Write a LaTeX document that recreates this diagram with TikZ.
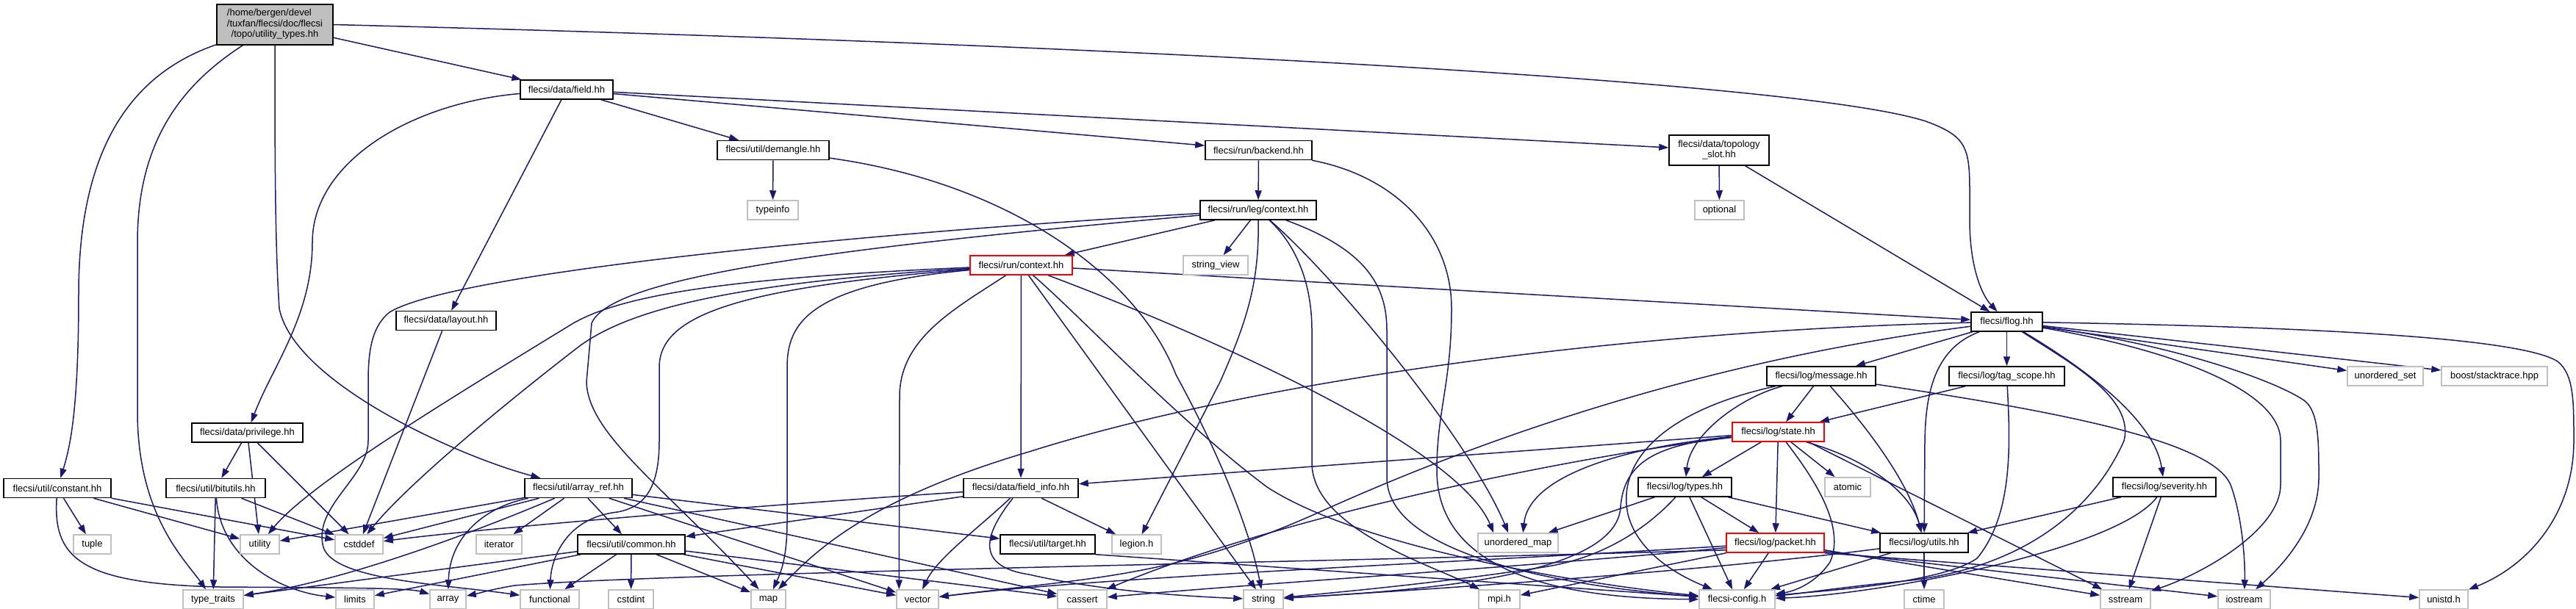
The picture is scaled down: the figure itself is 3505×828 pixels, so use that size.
\documentclass[tikz,border=0pt]{standalone}
\usepackage{fontspec}
\setmainfont{Liberation Sans}
\usetikzlibrary{arrows.meta,backgrounds}
\definecolor{edgec}{HTML}{191970}
\definecolor{lightg}{HTML}{BFBFBF}
\tikzset{
  nb/.style={draw=black, line width=1.5pt, fill=white, minimum height=26pt, inner sep=0pt, font=\fontsize{13}{14.5}\selectfont},
  ng/.style={nb, draw=lightg},
  nr/.style={nb, draw=red},
  edg/.style={draw=edgec, line width=1.5pt, -{Triangle[length=13pt,width=9pt]}},
}
\begin{document}
\begin{tikzpicture}[x=1pt,y=-1pt]
\useasboundingbox (0,0) rectangle (3505,828);
% ---------- nodes ----------
\node[nb, fill=lightg, minimum width=158pt, minimum height=55pt] (main) at (374,33.5)
  {\begin{tabular}{@{}l@{}}/home/bergen/devel\\/tuxfan/flecsi/doc/flecsi\\\multicolumn{1}{@{}c@{}}{/topo/utility\_types.hh}\end{tabular}};
\node[nb,minimum width=126pt] (field) at (771,122) {flecsi/data/field.hh};
\node[nb,minimum width=152pt] (demangle) at (1052,204.5) {flecsi/util/demangle.hh};
\node[ng,minimum width=69pt] (typeinfo) at (1051.5,286) {typeinfo};
\node[nb,minimum width=145pt] (backend) at (1712.5,204.5) {flecsi/run/backend.hh};
\node[nb,minimum width=136pt,minimum height=41pt] (topo) at (2339,204.5)
  {\begin{tabular}{@{}l@{}}flecsi/data/topology\\\multicolumn{1}{@{}c@{}}{\_slot.hh}\end{tabular}};
\node[ng,minimum width=67pt] (optional) at (2339.5,286) {optional};
\node[nb,minimum width=158pt] (leg) at (1712,286) {flecsi/run/leg/context.hh};
\node[ng,minimum width=88pt] (strview) at (1654,361) {string\_view};
\node[nr,minimum width=139pt] (runctx) at (1389.5,361) {flecsi/run/context.hh};
\node[nb,minimum width=97pt] (flog) at (2730.5,438) {flecsi/flog.hh};
\node[nb,minimum width=136pt] (layout) at (607,436.5) {flecsi/data/layout.hh};
\node[nb,minimum width=148pt] (message) at (2478,512) {flecsi/log/message.hh};
\node[nb,minimum width=157pt] (tagscope) at (2730.5,512) {flecsi/log/tag\_scope.hh};
\node[ng,minimum width=103pt] (uset) at (3245.5,512) {unordered\_set};
\node[ng,minimum width=144pt] (boost) at (3394,512) {boost/stacktrace.hpp};
\node[nr,minimum width=125pt] (state) at (2419.5,588) {flecsi/log/state.hh};
\node[nb,minimum width=151pt] (privilege) at (336.5,589) {flecsi/data/privilege.hh};
\node[nb,minimum width=146pt] (constant) at (78,664.5) {flecsi/util/constant.hh};
\node[nb,minimum width=135pt] (bitutils) at (293.5,664.5) {flecsi/util/bitutils.hh};
\node[nb,minimum width=146pt] (arrayref) at (787,664.5) {flecsi/util/array\_ref.hh};
\node[nb,minimum width=156pt] (fieldinfo) at (1389,664.5) {flecsi/data/field\_info.hh};
\node[nb,minimum width=127pt] (types) at (2292.5,663) {flecsi/log/types.hh};
\node[ng,minimum width=62pt] (atomic) at (2514,663) {atomic};
\node[nb,minimum width=140pt] (severity) at (2945,663) {flecsi/log/severity.hh};
\node[ng,minimum width=51pt] (tuple) at (125.5,741) {tuple};
\node[ng,minimum width=53pt] (utility) at (353.5,741) {utility};
\node[ng,minimum width=65pt] (cstddef) at (488.5,741) {cstddef};
\node[ng,minimum width=62pt] (iterator) at (679,741) {iterator};
\node[nb,minimum width=146pt] (common) at (859,741) {flecsi/util/common.hh};
\node[nb,minimum width=129pt] (target) at (1425.5,741) {flecsi/util/target.hh};
\node[ng,minimum width=67pt] (legion) at (1546.5,741) {legion.h};
\node[ng,minimum width=109pt] (umap) at (2065.5,739) {unordered\_map};
\node[nr,minimum width=133pt] (packet) at (2415.5,739) {flecsi/log/packet.hh};
\node[nb,minimum width=120pt] (utils) at (2618,739) {flecsi/log/utils.hh};
\node[ng,minimum width=82pt] (typetraits) at (290,816) {type\_traits};
\node[ng,minimum width=52pt] (limits) at (483,816) {limits};
\node[ng,minimum width=49pt] (array) at (609.5,816) {array};
\node[ng,minimum width=80pt] (functional) at (748,816) {functional};
\node[ng,minimum width=61pt] (cstdint) at (858.5,816) {cstdint};
\node[ng,minimum width=47pt] (map) at (1045.5,816) {map};
\node[ng,minimum width=57pt] (vector) at (1248.5,816) {vector};
\node[ng,minimum width=67pt] (cassert) at (1472.5,816) {cassert};
\node[ng,minimum width=54pt] (string) at (1719,816) {string};
\node[ng,minimum width=56pt] (mpi) at (2040,816) {mpi.h};
\node[ng,minimum width=103pt] (config) at (2363.5,816) {flecsi-config.h};
\node[ng,minimum width=54pt] (ctime) at (2618,816) {ctime};
\node[ng,minimum width=68pt] (sstream) at (2892,816) {sstream};
\node[ng,minimum width=71pt] (iostream) at (3053.5,816) {iostream};
\node[ng,minimum width=66pt] (unistd) at (3325,816) {unistd.h};
% ---------- edges ----------
\begin{scope}[on background layer]
\fill[white] (0,0) rectangle (3505,828);
% main
\draw[edg] (main) .. controls (180,100) and (107,200) .. (107,400) .. controls (107,560) and (95,610) .. (constant);
\draw[edg] (main) .. controls (240,120) and (187,200) .. (187,330) -- (187,560) .. controls (187,700) and (250,760) .. (typetraits);
\draw[edg] (main.south) .. controls (374,200) and (374,330) .. (380,420) .. controls (400,520) and (620,620) .. (arrayref);
\draw[edg] (main) -- (field);
\draw[edg] (main.east) .. controls (1500,60) and (2450,110) .. (2620,165) .. controls (2675,185) and (2680,200) .. (2680,260) -- (2680,300) .. controls (2680,360) and (2695,400) .. (flog);
% field
\draw[edg] (field) .. controls (560,140) and (425,220) .. (425,330) .. controls (425,430) and (370,500) .. (privilege);
\draw[edg] (field) -- (layout);
\draw[edg] (field) -- (demangle);
\draw[edg] (field) -- (backend);
\draw[edg] (field) -- (topo);
% demangle
\draw[edg] (demangle) -- (typeinfo);
\draw[edg] (demangle) .. controls (1380,250) and (1550,380) .. (1600,510) .. controls (1660,620) and (1700,720) .. (string);
% backend
\draw[edg] (backend) -- (leg);
\draw[edg] (backend) .. controls (1900,240) and (1975,320) .. (1975,420) .. controls (1975,520) and (1955,560) .. (1955,640) .. controls (1955,790) and (2150,815) .. (config);
% topology slot
\draw[edg] (topo) -- (optional);
\draw[edg] (topo) -- (flog);
% leg context
\draw[edg] (leg) -- (runctx);
\draw[edg] (leg) -- (strview);
\draw[edg] (leg) .. controls (1713,380) and (1700,430) .. (1660,520) -- (legion);
\draw[edg] (leg) .. controls (1760,330) and (1785,380) .. (1785,450) -- (1785,630) .. controls (1785,720) and (1950,770) .. (mpi);
\draw[edg] (leg) .. controls (1820,380) and (2000,600) .. ([xshift=42pt]umap.north west);
\draw[edg] (leg) .. controls (1860,340) and (1887,390) .. (1887,450) -- (1887,650) .. controls (1887,760) and (2150,800) .. (config);
\draw[edg] (leg) .. controls (1200,315) and (620,370) .. (530,425) .. controls (505,445) and (501,480) .. (501,520) -- (501,600) .. controls (501,650) and (425,690) .. (440,745) .. controls (455,790) and (600,795) .. (functional);
\draw[edg] (leg) .. controls (1100,340) and (830,380) .. (805,440) -- (798,520) .. controls (800,590) and (900,660) .. (map);
% run context
\draw[edg] (runctx) -- (fieldinfo);
\draw[edg] (runctx) -- (flog);
\draw[edg] (runctx) .. controls (1300,420) and (1224,460) .. (1224,540) -- ([xshift=4pt]vector.north west);
\draw[edg] (runctx) -- (string);
\draw[edg] (runctx) .. controls (1470,430) and (1600,570) .. (1724,663) .. controls (1850,745) and (2150,795) .. (config);
\draw[edg] (runctx) .. controls (1600,440) and (1980,600) .. ([xshift=22pt]umap.north west);
\draw[edg] (runctx) .. controls (1000,378) and (850,400) .. (780,440) .. controls (600,550) and (420,660) .. (utility);
\draw[edg] (runctx) .. controls (1000,385) and (860,420) .. (790,470) .. controls (660,570) and (545,670) .. (cstddef);
\draw[edg] (runctx) .. controls (1000,392) and (897,430) .. (897,500) -- (897,600) .. controls (897,660) and (880,690) .. (840,697) .. controls (770,705) and (750,760) .. (functional);
\draw[edg] (runctx) .. controls (1100,388) and (1071,440) .. (1071,500) -- (1071,710) .. controls (1071,760) and (1062,780) .. (map);
% flog
\draw[edg] (flog) -- (message);
\draw[edg] (flog) -- (tagscope);
\draw[edg] (flog) .. controls (2630,475) and (2620,540) .. (2619,600) -- (utils);
\draw[edg] (flog) .. controls (2800,480) and (2930,560) .. (severity);
\draw[edg] (flog) -- (uset);
\draw[edg] (flog) -- (boost);
\draw[edg] (flog) .. controls (3150,445) and (3430,460) .. (3480,492) .. controls (3502,510) and (3502,545) .. (3502,600) .. controls (3502,700) and (3440,770) .. (unistd);
\draw[edg] (flog) .. controls (2950,475) and (3103,530) .. (3103,600) -- (3103,660) .. controls (3103,720) and (3000,780) .. (sstream);
\draw[edg] (flog) .. controls (2950,468) and (3090,515) .. (3135,545) .. controls (3155,560) and (3155,600) .. (3155,650) .. controls (3155,720) and (3100,775) .. (iostream);
\draw[edg] (flog) .. controls (2810,490) and (2905,540) .. (2890,600) .. controls (2850,690) and (2760,770) .. (2600,790) .. controls (2500,800) and (2450,808) .. (config);
\draw[edg] (flog) .. controls (2200,450) and (1700,520) .. (1400,615) .. controls (1180,680) and (1110,750) .. (map);
\draw[edg] (flog) .. controls (2400,480) and (2100,560) .. (1800,695) .. controls (1600,785) and (1500,785) .. (vector);
% message
\draw[edg] (message) -- (state);
\draw[edg] (message) .. controls (2370,540) and (2300,590) .. (types);
\draw[edg] (message) .. controls (2260,560) and (2200,630) .. (2215,700) .. controls (2230,760) and (2300,790) .. (config);
\draw[edg] (message) .. controls (2530,570) and (2595,650) .. (utils);
\draw[edg] (message) .. controls (2800,560) and (3010,600) .. (3035,660) .. controls (3050,700) and (3055,760) .. (iostream);
% tag scope
\draw[edg] (tagscope) -- (state);
\draw[edg] (tagscope) .. controls (2735,600) and (2740,700) .. (2690,760) .. controls (2640,795) and (2470,805) .. (config);
% severity
\draw[edg] (severity) -- (utils);
\draw[edg] (severity) -- (sstream);
\draw[edg] (severity) .. controls (2880,750) and (2550,810) .. (config);
% state
\draw[edg] (state) -- (fieldinfo);
\draw[edg] (state) .. controls (2200,610) and (2080,650) .. ([xshift=62pt]umap.north west);
\draw[edg] (state) .. controls (2150,620) and (1750,700) .. (cassert);
\draw[edg] (state) .. controls (2260,605) and (2210,625) .. (2205,690) .. controls (2200,790) and (1900,805) .. (string);
\draw[edg] (state) -- (types);
\draw[edg] (state) -- (packet);
\draw[edg] (state) -- (atomic);
\draw[edg] (state) .. controls (2475,660) and (2510,720) .. (2490,765) .. controls (2470,795) and (2440,805) .. (config);
\draw[edg] ([xshift=-25pt]state.south east) .. controls (2540,625) and (2600,670) .. (utils);
\draw[edg] ([xshift=-22pt]state.south east) -- ([xshift=3pt]sstream.north west);
% types
\draw[edg] (types) -- (umap);
\draw[edg] (types) .. controls (2240,720) and (2180,760) .. (2100,772) .. controls (1950,795) and (1800,808) .. (string);
\draw[edg] (types) -- (config);
\draw[edg] (types) -- (packet);
\draw[edg] (types) -- (utils);
% packet
\draw[edg] (packet) -- (config);
\draw[edg] ([yshift=4pt]packet.south east) -- (sstream);
\draw[edg] ([yshift=2pt]packet.south east) -- (iostream);
\draw[edg] (packet.south east) -- (unistd);
\draw[edg] ([yshift=4pt]packet.south west) .. controls (1800,765) and (900,780) .. (700,797) .. controls (665,803) and (650,808) .. (array);
\draw[edg] (packet) .. controls (2000,765) and (1500,785) .. (vector);
\draw[edg] (packet) .. controls (2100,770) and (1700,795) .. (cassert);
\draw[edg] (packet) -- (mpi);
% utils
\draw[edg] (utils) -- (config);
\draw[edg] (utils) -- (ctime);
\draw[edg] (utils) .. controls (2300,780) and (1900,805) .. (string);
% field info
\draw[edg] (fieldinfo) .. controls (1000,690) and (650,720) .. (cstddef);
\draw[edg] (fieldinfo) -- (common);
\draw[edg] (fieldinfo) .. controls (1330,720) and (1275,760) .. (vector);
\draw[edg] (fieldinfo) .. controls (1345,720) and (1320,770) .. (1400,782) .. controls (1500,805) and (1620,812) .. (string);
\draw[edg] (fieldinfo) -- (legion);
% array ref
\draw[edg] (arrayref) -- (utility);
\draw[edg] (arrayref) -- (cstddef);
\draw[edg] (arrayref) .. controls (680,710) and (480,790) .. (typetraits);
\draw[edg] (arrayref) .. controls (660,690) and (612,730) .. (array);
\draw[edg] (arrayref) -- (iterator);
\draw[edg] (arrayref) -- (common);
\draw[edg] (arrayref) -- (vector);
\draw[edg] (arrayref) -- (target);
\draw[edg] (arrayref) -- (cassert);
% common
\draw[edg] (common) -- (typetraits);
\draw[edg] (common) -- (limits);
\draw[edg] (common) -- (functional);
\draw[edg] (common) -- (cstdint);
\draw[edg] (common) -- (map);
\draw[edg] (common) -- (vector);
\draw[edg] (common) -- (cassert);
% constant
\draw[edg] (constant) -- (tuple);
\draw[edg] (constant) -- (utility);
\draw[edg] (constant) -- (cstddef);
\draw[edg] (constant) .. controls (72,760) and (110,795) .. (300,799) .. controls (450,800) and (555,800) .. (array);
% bitutils
\draw[edg] (bitutils) -- (typetraits);
\draw[edg] (bitutils) .. controls (300,760) and (380,805) .. (limits);
\draw[edg] (bitutils) -- (cstddef);
% privilege
\draw[edg] (privilege) -- (bitutils);
\draw[edg] (privilege) -- (utility);
\draw[edg] (privilege) -- (cstddef);
% layout
\draw[edg] (layout) -- (cstddef);
% target
\draw[edg] (target.south east) -- (config);
\end{scope}
\end{tikzpicture}
\end{document}
